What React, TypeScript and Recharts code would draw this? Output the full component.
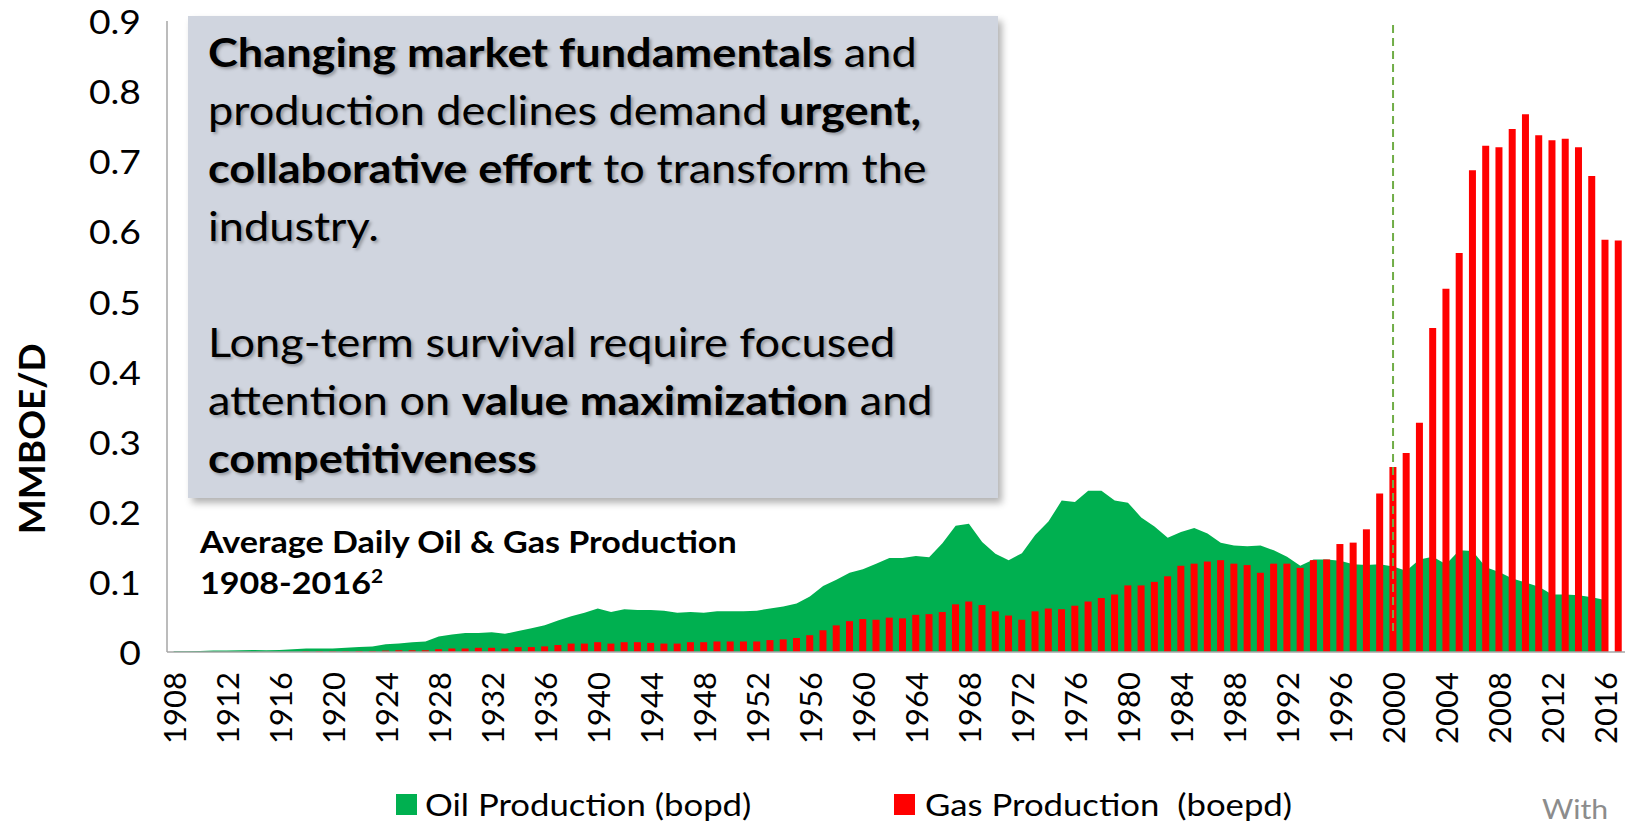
import React from 'react';
import { ComposedChart, Area, Bar, XAxis, YAxis, ReferenceLine, Legend, Label } from 'recharts';

// years on the category axis, 1908-2017
const years: string[] = [
  '1908', '1909', '1910', '1911', '1912', '1913', '1914', '1915', '1916', '1917',
  '1918', '1919', '1920', '1921', '1922', '1923', '1924', '1925', '1926', '1927',
  '1928', '1929', '1930', '1931', '1932', '1933', '1934', '1935', '1936', '1937',
  '1938', '1939', '1940', '1941', '1942', '1943', '1944', '1945', '1946', '1947',
  '1948', '1949', '1950', '1951', '1952', '1953', '1954', '1955', '1956', '1957',
  '1958', '1959', '1960', '1961', '1962', '1963', '1964', '1965', '1966', '1967',
  '1968', '1969', '1970', '1971', '1972', '1973', '1974', '1975', '1976', '1977',
  '1978', '1979', '1980', '1981', '1982', '1983', '1984', '1985', '1986', '1987',
  '1988', '1989', '1990', '1991', '1992', '1993', '1994', '1995', '1996', '1997',
  '1998', '1999', '2000', '2001', '2002', '2003', '2004', '2005', '2006', '2007',
  '2008', '2009', '2010', '2011', '2012', '2013', '2014', '2015', '2016', '2017',
];

// oil production, MMBOE/D (no value for 2017)
const oilProduction: (number | null)[] = [
  0.001, 0.001, 0.0015, 0.002, 0.002, 0.0025, 0.003, 0.0025, 0.003, 0.004,
  0.005, 0.005, 0.005, 0.006, 0.007, 0.008, 0.011, 0.012, 0.014, 0.015,
  0.022, 0.025, 0.027, 0.027, 0.028, 0.026, 0.03, 0.034, 0.038, 0.045,
  0.051, 0.056, 0.062, 0.057, 0.061, 0.06, 0.06, 0.059, 0.056, 0.057,
  0.056, 0.058, 0.058, 0.058, 0.059, 0.062, 0.065, 0.069, 0.079, 0.094,
  0.103, 0.113, 0.118, 0.126, 0.134, 0.134, 0.137, 0.135, 0.155, 0.18,
  0.183, 0.157, 0.14, 0.131, 0.141, 0.167, 0.186, 0.216, 0.214, 0.23,
  0.23, 0.216, 0.213, 0.192, 0.179, 0.163, 0.171, 0.177, 0.169, 0.156,
  0.152, 0.151, 0.152, 0.145, 0.136, 0.123, 0.132, 0.132, 0.13, 0.125,
  0.124, 0.125, 0.122, 0.116, 0.132, 0.136, 0.125, 0.145, 0.144, 0.121,
  0.114, 0.105, 0.099, 0.093, 0.082, 0.082, 0.081, 0.078, 0.074, null,
];

// gas production, MMBOE/D
const gasProduction: number[] = [
  0, 0, 0, 0, 0, 0, 0, 0, 0, 0,
  0.001, 0.001, 0.001, 0.001, 0.0015, 0.0015, 0.002, 0.0025, 0.0025, 0.0025,
  0.004, 0.005, 0.005, 0.006, 0.006, 0.005, 0.007, 0.007, 0.008, 0.01,
  0.012, 0.012, 0.014, 0.012, 0.014, 0.014, 0.013, 0.012, 0.012, 0.014,
  0.014, 0.015, 0.015, 0.015, 0.015, 0.017, 0.018, 0.02, 0.024, 0.031,
  0.038, 0.044, 0.047, 0.046, 0.049, 0.048, 0.053, 0.054, 0.057, 0.068,
  0.072, 0.067, 0.058, 0.052, 0.046, 0.058, 0.062, 0.061, 0.066, 0.072,
  0.077, 0.082, 0.095, 0.095, 0.1, 0.108, 0.123, 0.126, 0.129, 0.131,
  0.126, 0.124, 0.113, 0.126, 0.126, 0.12, 0.131, 0.132, 0.154, 0.156,
  0.175, 0.226, 0.264, 0.284, 0.327, 0.462, 0.518, 0.569, 0.687, 0.722,
  0.72, 0.746, 0.767, 0.737, 0.73, 0.732, 0.72, 0.679, 0.588, 0.587,
];

const yTicks = [0, 0.1, 0.2, 0.3, 0.4, 0.5, 0.6, 0.7, 0.8, 0.9];

const OIL = '#00B050';
const GAS = '#FF0000';
const FONT = 'Lato, "Open Sans", sans-serif';
// the source artwork is slightly stretched sideways
const STRETCH = 1.1;

const data = years.map((year, i) => ({
  year,
  oil: oilProduction[i],
  gas: gasProduction[i],
}));

const YearTick = ({ x, y, payload }: any) => (
  <text
    x={x}
    y={y + 12}
    transform={`rotate(-90, ${x}, ${y + 12})`}
    textAnchor="end"
    dominantBaseline="central"
    fontFamily={FONT}
    fontSize={31}
    fill="#000"
  >
    {payload.value}
  </text>
);

const ValueTick = ({ x, y, payload }: any) => (
  <text
    x={x}
    y={y}
    transform={`translate(${x} 0) scale(1.13 1) translate(${-x} 0)`}
    textAnchor="end"
    dominantBaseline="central"
    fontFamily={FONT}
    fontSize={33}
    fill="#000"
  >
    {payload.value}
  </text>
);

const legendText: React.CSSProperties = {
  position: 'absolute',
  top: 15,
  fontSize: 31,
  lineHeight: '40px',
  color: '#000',
  whiteSpace: 'pre',
  transform: 'scaleX(1.12)',
  transformOrigin: 'left center',
};

const LegendBox = () => (
  <div style={{ position: 'relative', width: 1634, height: 60, fontFamily: FONT }}>
    <div style={{ position: 'absolute', left: 396, top: 25, width: 21, height: 21, background: OIL }} />
    <div style={{ ...legendText, left: 425 }}>Oil Production (bopd)</div>
    <div style={{ position: 'absolute', left: 894, top: 25, width: 21, height: 21, background: GAS }} />
    <div style={{ ...legendText, left: 925 }}>Gas Production  (boepd)</div>
    <div style={{ ...legendText, left: 1542, top: 20, fontSize: 27, color: '#8c8c8c' }}>With</div>
  </div>
);

const DashedMarker = (props: any) => (
  <line
    x1={props.x1}
    x2={props.x2}
    y1={props.y1 - 21}
    y2={props.y2}
    stroke="#70AD47"
    strokeWidth={2}
    strokeDasharray="8 5"
  />
);

const b = { fontWeight: 700 };

export default function App() {
  return (
    <div style={{ position: 'relative', width: 1634, height: 829, margin: -8, background: '#fff', overflow: 'hidden' }}>
      <ComposedChart
        width={1634}
        height={829}
        data={data}
        margin={{ top: 21, right: 9, left: 0, bottom: 0 }}
        barSize={7}
      >
        <XAxis
          dataKey="year"
          interval={3}
          tick={<YearTick />}
          tickLine={false}
          axisLine={{ stroke: '#a6a6a6', strokeWidth: 1.5 }}
          height={117}
        />
        <YAxis
          domain={[0, 0.9]}
          ticks={yTicks}
          width={167}
          tickLine={false}
          tickMargin={20}
          axisLine={{ stroke: '#a6a6a6', strokeWidth: 1.5 }}
          tick={<ValueTick />}
        >
          <Label
            content={({ viewBox }: any) => {
              const cx = viewBox.x + 31;
              const cy = viewBox.y + viewBox.height * 0.662;
              return (
                <text
                  x={cx}
                  y={cy}
                  transform={`rotate(-90, ${cx}, ${cy})`}
                  textAnchor="middle"
                  dominantBaseline="central"
                  fontFamily={FONT}
                  fontWeight={700}
                  fontSize={37}
                  fill="#000"
                >
                  MMBOE/D
                </text>
              );
            }}
          />
        </YAxis>
        <Area
          type="linear"
          dataKey="oil"
          name="Oil Production (bopd)"
          fill={OIL}
          fillOpacity={1}
          stroke="none"
          isAnimationActive={false}
        />
        <Bar dataKey="gas" name="Gas Production  (boepd)" fill={GAS} isAnimationActive={false} />
        <ReferenceLine x="2000" shape={<DashedMarker />} ifOverflow="visible" />
        <Legend verticalAlign="bottom" content={<LegendBox />} wrapperStyle={{ left: 0, bottom: 0, width: 1634, height: 60 }} />
      </ComposedChart>

      <div
        style={{
          position: 'absolute',
          left: 188,
          top: 16,
          width: 810,
          height: 482,
          background: '#d0d5df',
          boxShadow: '4px 5px 7px rgba(0,0,0,0.3)',
          boxSizing: 'border-box',
          padding: '7px 0 0 20px',
        }}
      >
        <div
          style={{
            fontFamily: FONT,
            fontSize: 41,
            lineHeight: '58px',
            color: '#000',
            whiteSpace: 'nowrap',
            textShadow: '2px 2px 3px rgba(0,0,0,0.3)',
            transform: `scaleX(${STRETCH})`,
            transformOrigin: 'left top',
          }}
        >
          <span style={b}>Changing market fundamentals</span> and<br />
          production declines demand <span style={b}>urgent,</span><br />
          <span style={b}>collaborative effort</span> to transform the<br />
          industry.<br />
          <br />
          Long-term survival require focused<br />
          attention on <span style={b}>value maximization</span> and<br />
          <span style={b}>competitiveness</span>
        </div>
      </div>

      <div
        style={{
          position: 'absolute',
          left: 200,
          top: 521,
          fontFamily: FONT,
          fontWeight: 700,
          fontSize: 31,
          lineHeight: '41px',
          color: '#000',
          whiteSpace: 'nowrap',
          transform: `scaleX(${STRETCH})`,
          transformOrigin: 'left top',
        }}
      >
        Average Daily Oil &amp; Gas Production<br />
        1908-2016<sup style={{ fontSize: 19, verticalAlign: 'super', lineHeight: 0 }}>2</sup>
      </div>
    </div>
  );
}
